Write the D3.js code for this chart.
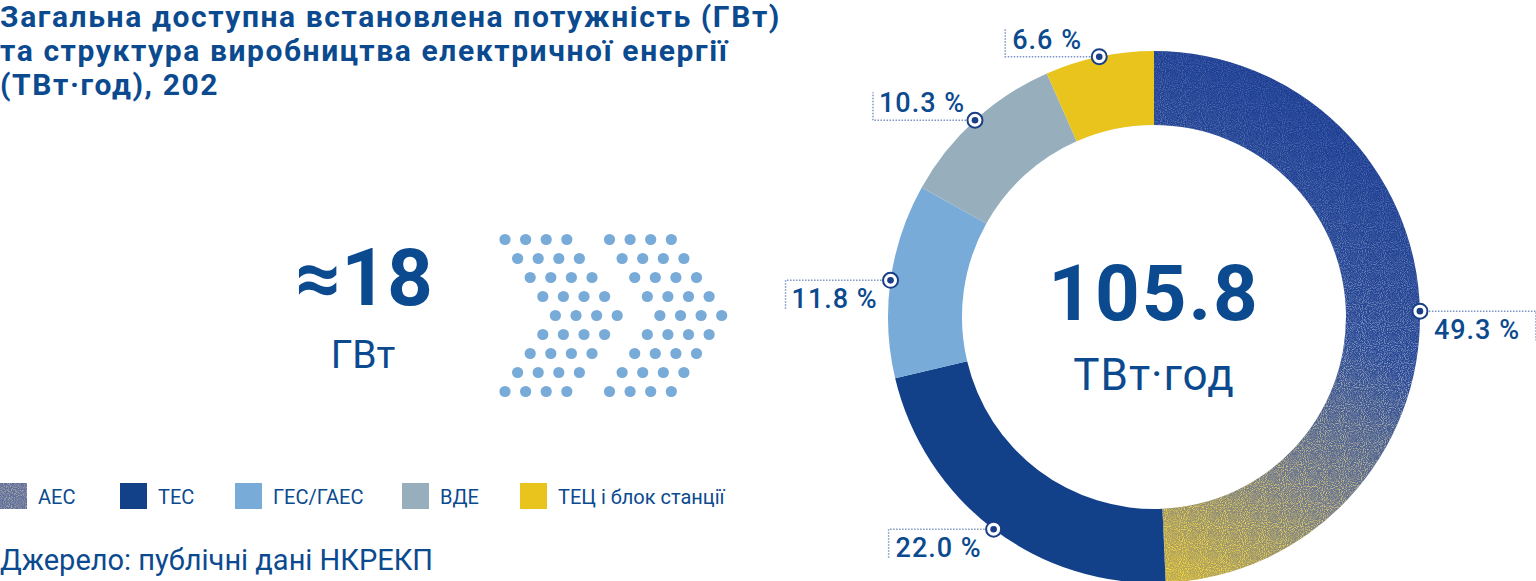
<!DOCTYPE html>
<html>
<head>
<meta charset="utf-8">
<script src="https://cdn.jsdelivr.net/npm/d3@7"></script>
<style>
  body { margin: 0; background: #fff; }
  svg { display: block; }
</style>
</head>
<body>
<svg id="chart" width="1536" height="581"></svg>
<script>
// data
const titleLines = ['Загальна доступна встановлена потужність (ГВт)',
  'та структура виробництва електричної енергії',
  '(ТВт·год), 202']
const categories = ['АЕС', 'ТЕС', 'ГЕС/ГАЕС', 'ВДЕ', 'ТЕЦ і блок станції']
const shares = [49.3, 22.0, 11.8, 10.3, 6.6]
const capacityValue = '≈18'
const capacityUnit = 'ГВт'
const generationValue = '105.8'
const generationUnit = 'ТВт·год'
const sourceText = 'Джерело: публічні дані НКРЕКП'
// chevron of dots: row shift (in steps) for each of the rows
const chevronRows = [0, 1, 2, 3, 4, 3, 2, 1, 0]

const darkBlue = '#0b4a8f'
const sliceColors = ['url(#aesBase)', '#12418a', '#79abd8', '#97aebc', '#e8c41c']

const svg = d3.select('#chart')
const defs = svg.append('defs')

const cx = 1154, cy = 317, outerR = 266, innerR = 192

// АЕС: blue base and a grain layer fading into yellow along the arc
// (coordinates are relative to the donut centre, the paths are translated)
function gradient (id, stops) {
  const g = defs.append('linearGradient').attr('id', id)
    .attr('gradientUnits', 'userSpaceOnUse')
    .attr('x1', 250).attr('y1', -170).attr('x2', 10).attr('y2', 250)
  stops.forEach(s => g.append('stop').attr('offset', s[0]).attr('stop-color', s[1]).attr('stop-opacity', s[2]))
}
gradient('aesBase', [[0, '#1e3e93', 1], [0.4, '#2a4a96', 1], [0.72, '#6f7890', 1], [1, '#bba955', 1]])
gradient('aesGrain', [[0, '#6a86c2', 0.35], [0.4, '#aebcd6', 0.65], [0.72, '#e0cd70', 0.85], [1, '#f4d83a', 1]])

const grain = defs.append('filter').attr('id', 'grain')
  .attr('x', 0).attr('y', 0).attr('width', 1).attr('height', 1)
grain.append('feTurbulence').attr('type', 'fractalNoise').attr('baseFrequency', 0.95)
  .attr('numOctaves', 1).attr('seed', 4).attr('result', 'noise')
grain.append('feColorMatrix').attr('in', 'noise').attr('type', 'matrix')
  .attr('values', '0 0 0 0 0  0 0 0 0 0  0 0 0 0 0  4 0 0 0 -1.8').attr('result', 'mask')
grain.append('feComposite').attr('in', 'SourceGraphic').attr('in2', 'mask').attr('operator', 'in')

// title
svg.append('g').selectAll('text')
  .data(titleLines)
  .enter().append('text')
  .attr('x', 0)
  .attr('y', (d, i) => 27 + i * 34)
  .attr('fill', darkBlue)
  .style('font-family', 'Roboto, sans-serif')
  .style('font-weight', 700)
  .style('font-size', '30px')
  .style('letter-spacing', '1.6px')
  .text(d => d)

// capacity
svg.append('text').attr('x', 364).attr('y', 305).attr('text-anchor', 'middle')
  .attr('fill', darkBlue)
  .style('font-family', 'Roboto, sans-serif').style('font-weight', 700).style('font-size', '80px')
  .text(capacityValue)
svg.append('text').attr('x', 363).attr('y', 368).attr('text-anchor', 'middle')
  .attr('fill', darkBlue)
  .style('font-family', 'Roboto, sans-serif').style('font-size', '39px')
  .text(capacityUnit)

// dots arrow
const rowY = d3.scaleLinear().domain([0, chevronRows.length - 1]).range([239.5, 391.5])
const dots = []
chevronRows.forEach((shift, r) => {
  for (let c = 0; c < 2; c++) {
    for (let k = 0; k < 4; k++) {
      dots.push({ x: 505 + shift * 12.6 + c * 104.5 + k * 20.6, y: rowY(r) })
    }
  }
})
svg.append('g').selectAll('circle')
  .data(dots)
  .enter().append('circle')
  .attr('cx', d => d.x).attr('cy', d => d.y).attr('r', 5.6)
  .attr('fill', '#79abd8')

// donut
const pie = d3.pie().sort(null).value(d => d)
const arcs = pie(shares)
const arc = d3.arc().innerRadius(innerR).outerRadius(outerR)

const donut = svg.append('g').attr('transform', `translate(${cx},${cy})`)
donut.selectAll('path.slice')
  .data(arcs)
  .enter().append('path')
  .attr('class', 'slice')
  .attr('d', arc)
  .attr('fill', (d, i) => sliceColors[i])
// grain on the АЕС slice
donut.append('path')
  .attr('d', arc(arcs[0]))
  .attr('fill', 'url(#aesGrain)')
  .attr('filter', 'url(#grain)')

// center text
svg.append('text').attr('x', cx).attr('y', 320).attr('text-anchor', 'middle')
  .attr('fill', darkBlue)
  .style('font-family', 'Roboto, sans-serif').style('font-weight', 700).style('font-size', '78px')
  .style('letter-spacing', '2px')
  .text(generationValue)
svg.append('text').attr('x', cx).attr('y', 390).attr('text-anchor', 'middle')
  .attr('fill', darkBlue)
  .style('font-family', 'Roboto, sans-serif').style('font-size', '44px')
  .style('letter-spacing', '1px')
  .text(generationUnit)

// labels: marker on the outer edge at the middle of each slice
const labelLayout = [
  { lineDx: 116, textDx: 14, below: true },
  { lineDx: -105, textDx: -98, below: true },
  { lineDx: -105, textDx: -99, below: true },
  { lineDx: -102, textDx: -96, below: false },
  { lineDx: -94, textDx: -87, below: false }
]
const pct = d3.format('.1f')
const labels = svg.append('g')
arcs.forEach((d, i) => {
  const a = (d.startAngle + d.endAngle) / 2
  const mx = cx + outerR * Math.sin(a)
  const my = cy - outerR * Math.cos(a)
  const L = labelLayout[i]
  const vx = mx + L.lineDx
  const vy = L.below ? my + 29 : my - 28
  labels.append('path')
    .attr('d', `M${mx},${my}H${vx}V${vy}`)
    .attr('fill', 'none')
    .attr('stroke', '#7d95c2')
    .attr('stroke-width', 1.5)
    .attr('stroke-dasharray', '1.5,1.5')
  labels.append('text')
    .attr('x', mx + L.textDx)
    .attr('y', L.below ? my + 28 : my - 8)
    .attr('fill', darkBlue)
    .style('font-family', 'Roboto, sans-serif').style('font-weight', 500).style('font-size', '27px')
    .style('letter-spacing', '1px')
    .text(pct(shares[i]) + ' %')
  labels.append('circle').attr('cx', mx).attr('cy', my).attr('r', 7.5)
    .attr('fill', '#fff').attr('stroke', '#1a3f86').attr('stroke-width', 2)
  labels.append('circle').attr('cx', mx).attr('cy', my).attr('r', 3.3)
    .attr('fill', '#1a3f86')
})

// legend
const legendX = [0, 120, 235, 402, 520]
const legend = svg.append('g').selectAll('g')
  .data(categories)
  .enter().append('g')
  .attr('transform', (d, i) => `translate(${legendX[i]},483)`)
legend.append('rect').attr('width', 27).attr('height', 26)
  .attr('fill', (d, i) => i === 0 ? '#5f6f9f' : sliceColors[i])
legend.filter((d, i) => i === 0).append('rect').attr('width', 27).attr('height', 26)
  .attr('fill', '#a8a8a0').attr('filter', 'url(#grain)')
legend.append('text').attr('x', 38).attr('y', 21)
  .attr('fill', darkBlue)
  .style('font-family', 'Roboto, sans-serif').style('font-size', '20px')
  .text(d => d)

// source
svg.append('text').attr('x', 0).attr('y', 570)
  .attr('fill', darkBlue)
  .style('font-family', 'Roboto, sans-serif').style('font-size', '29px')
  .text(sourceText)
</script>
</body>
</html>
